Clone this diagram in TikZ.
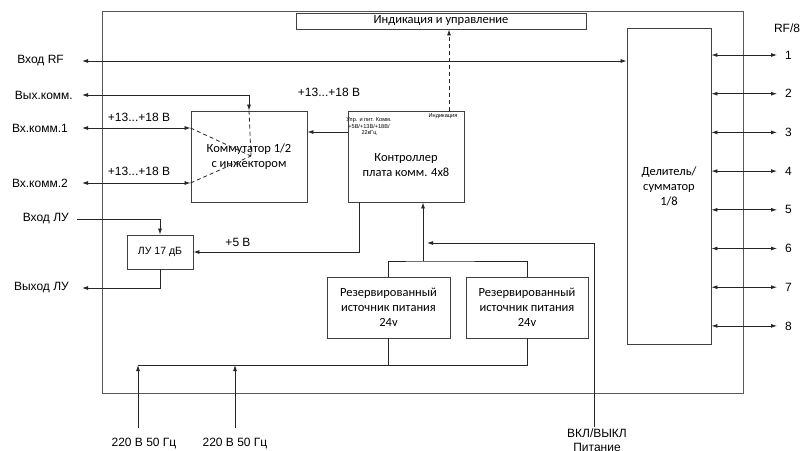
\documentclass[tikz,border=0pt]{standalone}
\usepackage{fontspec}
\setmainfont{Liberation Sans}
\newfontfamily\carlito{Carlito}
\usetikzlibrary{arrows.meta,calc}
\tikzset{
  blk/.style={draw=black!75,line width=0.9pt,align=center,inner sep=0pt,
              font=\carlito\fontsize{12.5}{15}\selectfont},
  txt/.style={align=center,inner sep=0pt,font=\carlito\fontsize{12.5}{15}\selectfont},
  lbl/.style={inner sep=0pt,font=\fontsize{12}{14}\selectfont},
  small/.style={align=center,inner sep=0pt,font=\fontsize{5.6}{6.4}\selectfont},
  wire/.style={draw=black!85,line width=0.8pt},
  frame/.style={draw=black!65,line width=1pt},
}

\begin{document}
\begin{tikzpicture}[x=1pt,y=-1pt,>={Latex[length=6pt,width=4pt]}]
\useasboundingbox (0,0) rectangle (803,450);
\draw[frame] (102,11) rectangle (743,393);

% blocks
\node[blk,minimum width=290,minimum height=16] (ind) at (441,21) {Индикация и управление};
\node[blk,minimum width=116,minimum height=91] (komm) at (249,156.5) {Коммутатор 1/2\\с инжектором};
\node[blk,minimum width=116,minimum height=91] (ctrl) at (406,156.5) {};
\node[txt] (ctrltxt) at (406,165) {Контроллер\\плата комм. 4x8};
\node[small] (upr) at (369,127) {Упр. и пит. Комм.\\+5В/+13В/+18В/\\22кГц};
\node[small] (indk) at (443,116) {Индикация};
\node[blk,minimum width=84,minimum height=316] (del) at (669,186) {Делитель/\\сумматор\\1/8};
\node[blk,font=\fontsize{10.5}{12}\selectfont,minimum width=66,minimum height=34] (lu) at (160,252) {ЛУ 17 дБ};
\node[blk,minimum width=123,minimum height=61] (psu1) at (388.5,307.5) {Резервированный\\источник питания\\24v};
\node[blk,minimum width=122,minimum height=61] (psu2) at (527,307.5) {Резервированный\\источник питания\\24v};

% outside labels
\node[lbl,anchor=east] (lrf) at (64,61) {Вход RF};
\node[lbl,anchor=east] (lvyh) at (73,95) {Вых.комм.};
\node[lbl,anchor=east] (lvk1) at (68,128) {Вх.комм.1};
\node[lbl,anchor=east] (lvk2) at (68,183) {Вх.комм.2};
\node[lbl,anchor=east] (lluin) at (69,219) {Вход ЛУ};
\node[lbl,anchor=east] (lluout) at (69,288) {Выход ЛУ};
\node[lbl] (u1) at (139,117) {+13...+18 В};
\node[lbl] (u2) at (139,171) {+13...+18 В};
\node[lbl] (u3) at (329,92) {+13...+18 В};
\node[lbl] (u5) at (238,242) {+5 В};
\node[lbl] (rf8) at (787,28) {RF/8};
\node[lbl] (ac1txt) at (144,443) {220 В 50 Гц};
\node[lbl] (ac2txt) at (235,443) {220 В 50 Гц};
\node[lbl,align=center,anchor=north] (vkltxt) at (597,429) {ВКЛ/ВЫКЛ\\Питание};

\coordinate (rf) at (82,61);
\coordinate (vyh) at (82,95);
\coordinate (vk1) at (82,128);
\coordinate (vk2) at (82,183);
\coordinate (luin) at (77,219);
\coordinate (luout) at (82,288);
\coordinate (sw) at (251,156);
\coordinate (pk) at (0,132);
\coordinate (ix) at (449,0);
\coordinate (p5) at (359,0);
\coordinate (pj) at (423,261);
\coordinate (pv) at (427,243);
\coordinate (vkl) at (594,427);
\coordinate (bus) at (138,365);
\coordinate (ac1) at (138,428);
\coordinate (ac2) at (235,428);

% connectors
\draw[wire,<->] (rf) -- (rf -| del.west);
\draw[wire,<->] (vyh) -| (komm.north);
\draw[wire,<->] (vk1) -- (vk1 -| komm.west);
\draw[wire,<->] (vk2) -- (vk2 -| komm.west);
\draw[wire,dash pattern=on 4pt off 3pt] (komm.north) -- (sw) (vk1 -| komm.west) -- (sw) (vk2 -| komm.west) -- (sw);
\draw[wire,->] (ctrl.west |- pk) -- (komm.east |- pk);
\draw[wire,dash pattern=on 4pt off 3pt,->] (ctrl.north -| ix) -- (ind.south -| ix);
\draw[wire,->] (ctrl.south -| p5) |- (lu.east);
\draw[wire,->] (luin) -| (lu.north);
\draw[wire,->] (lu.south) |- (luout);
\draw[wire] (psu1.north) |- (pj) -| (psu2.north);
\draw[wire,->] (pj) -- (ctrl.south -| pj);
\draw[wire,->] (vkl) |- (pv);
\draw[wire] (psu1.south) |- (bus);
\draw[wire] (psu2.south) |- (psu1.south |- bus);
\draw[wire,->] (ac1) -- (bus);
\draw[wire,->] (ac2) -- (ac2 |- bus);

\foreach \i in {1,...,8}{
  \coordinate (port\i) at (777,{55+(\i-1)*38.7});
  \draw[wire,<->] (del.east |- port\i) -- (port\i);
  \node[lbl,anchor=west] (pn\i) at (785,{55+(\i-1)*38.7}) {\i};
}
\end{tikzpicture}
\end{document}
